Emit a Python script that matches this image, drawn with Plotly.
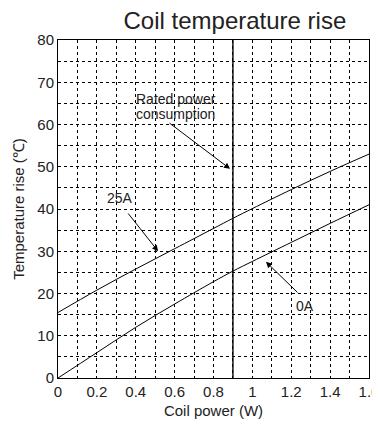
import plotly.graph_objects as go

power = [0, 0.2, 0.4, 0.6, 0.8, 0.9, 1.0, 1.2, 1.4, 1.6]
rise_25a = [15.5, 20.8, 25.8, 30.6, 35.4, 37.8, 40.1, 44.6, 48.9, 53]
rise_0a = [0, 6, 12, 17.5, 22.8, 25.3, 27.6, 32.1, 36.6, 41]
rated_power = 0.9

fig = go.Figure()
fig.add_trace(go.Scatter(x=power, y=rise_25a, mode="lines", line=dict(color="black", width=1, shape="spline"), showlegend=False))
fig.add_trace(go.Scatter(x=power, y=rise_0a, mode="lines", line=dict(color="black", width=1, shape="spline"), showlegend=False))
fig.add_trace(go.Scatter(x=[rated_power, rated_power], y=[0, 80], mode="lines", line=dict(color="black", width=1.4), showlegend=False))

font = "Liberation Sans, Arial, sans-serif"
txt = "#222"

def arrow(tx, ty, hx, hy):
    fig.add_annotation(x=hx, y=hy, ax=tx, ay=ty, xref="x", yref="y", axref="x", ayref="y",
                       text="", showarrow=True, arrowhead=2, arrowsize=1.2, arrowwidth=1, arrowcolor="black")

def label(text, lx, ly, size=14):
    fig.add_annotation(x=lx, y=ly, xref="x", yref="y", text=text, showarrow=False,
                       font=dict(family=font, size=size, color=txt))

arrow(0.566, 60.6, 0.885, 49.5)
label("Rated power", 0.605, 66.0, 14)
label("consumption", 0.605, 62.5, 14)
arrow(0.355, 39.3, 0.515, 30)
label("25A", 0.32, 42.6)
arrow(1.24, 19.9, 1.07, 27.5)
label("0A", 1.27, 17)

axis_common = dict(showline=True, linecolor="black", linewidth=1, mirror=True, automargin=False,
                   showgrid=True, gridcolor="black", gridwidth=1, griddash="dot",
                   zeroline=False, ticks="", tickfont=dict(family=font, size=15, color=txt))
fig.update_xaxes(range=[0, 1.6], dtick=0.2, tick0=0,
                 minor=dict(dtick=0.1, showgrid=True, gridcolor="black", griddash="dot", gridwidth=1),
                 title=dict(text="Coil power (W)", font=dict(family=font, size=15, color=txt), standoff=6),
                 **axis_common)
fig.update_yaxes(range=[0, 80], dtick=10, tick0=0,
                 minor=dict(dtick=5, showgrid=True, gridcolor="black", griddash="dot", gridwidth=1),
                 title=dict(text="Temperature rise (℃)", font=dict(family=font, size=15, color=txt), standoff=9),
                 **axis_common)

fig.update_layout(
    width=372, height=422,
    margin=dict(l=50, r=11, t=32, b=52),
    paper_bgcolor="white", plot_bgcolor="white",
    title=dict(text="Coil temperature rise", x=0.61, xanchor="center", y=0.99, yanchor="top",
               font=dict(family=font, size=24, color=txt)),
)
fig.write_html("out.html")
